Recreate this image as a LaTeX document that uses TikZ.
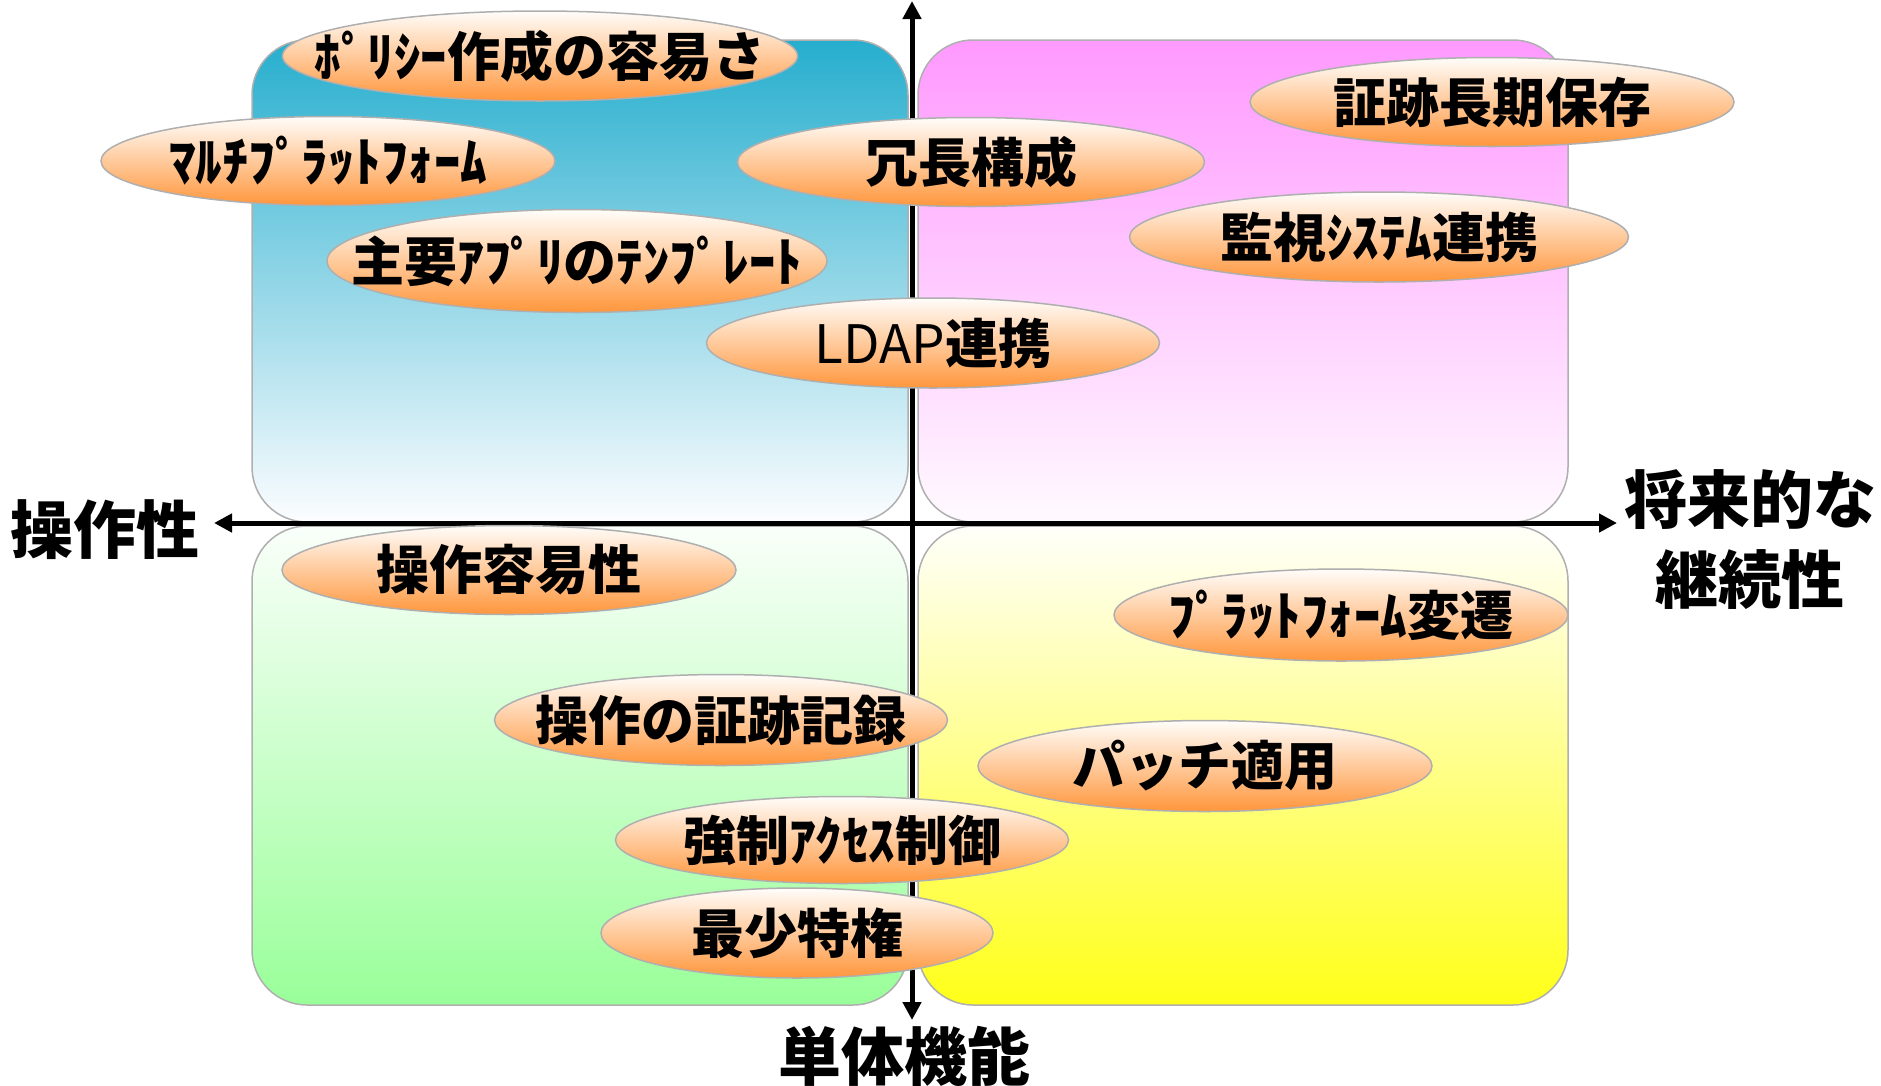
\documentclass[tikz,border=0pt]{standalone}
\usepackage{fontspec}
\newfontfamily\jp{Noto Sans CJK JP}
\usetikzlibrary{shapes.geometric,arrows.meta}
\definecolor{cyanT}{RGB}{38,174,206}
\definecolor{cyanB}{RGB}{252,253,255}
\definecolor{magT}{RGB}{255,153,255}
\definecolor{magB}{RGB}{255,250,255}
\definecolor{grnT}{RGB}{250,255,250}
\definecolor{grnB}{RGB}{153,255,153}
\definecolor{yelT}{RGB}{255,255,250}
\definecolor{yelB}{RGB}{255,255,25}
\definecolor{orT}{RGB}{255,253,250}
\definecolor{orM}{RGB}{252,205,170}
\definecolor{orB}{RGB}{255,150,60}
\definecolor{edge}{RGB}{175,175,175}
\begin{document}
\begin{tikzpicture}[x=1pt,y=-1pt,
  quad/.style={draw=edge,line width=1.5pt,rounded corners=55pt,inner sep=0pt},
  bub/.style={ellipse,draw=edge,line width=1.5pt,inner sep=0pt,
    top color=orT,middle color=orM,bottom color=orB},
  txt/.style={inner sep=0pt,font=\jp\bfseries\fontsize{53}{56}\selectfont},
  axlbl/.style={inner sep=0pt,font=\jp\bfseries\fontsize{63}{80}\selectfont,align=center},
  axis/.style={line width=5pt,{Triangle[length=18pt,width=18pt]}-{Triangle[length=18pt,width=18pt]}}]
\useasboundingbox (0,0) rectangle (1881,1085);
% quadrants
\node[quad,top color=cyanT,bottom color=cyanB,minimum width=656pt,minimum height=482pt] (q1) at (580,281) {};
\node[quad,top color=magT,bottom color=magB,minimum width=650pt,minimum height=482pt] (q2) at (1243,281) {};
\node[quad,top color=grnT,bottom color=grnB,minimum width=656pt,minimum height=479pt] (q3) at (580,765.5) {};
\node[quad,top color=yelT,bottom color=yelB,minimum width=650pt,minimum height=479pt] (q4) at (1243,765.5) {};
% axes
\coordinate (vt) at (912,1);
\coordinate (vb) at (912,1020);
\coordinate (hl) at (214,523);
\coordinate (hr) at (1617,523);
\draw[axis] (vb) -- (vt);
\draw[axis] (hl) -- (hr);
% axis labels
\node[axlbl] (lblL) at (105,530) {操作性};
\node[axlbl] (lblR) at (1750,540) {将来的な\\継続性};
\node[axlbl] (lblB) at (904,1056) {単体機能};
% bubbles
\node[bub,minimum width=515pt,minimum height=90pt] (e1) at (540,56) {};
\node[txt] (t1) at (e1) {ﾎﾟﾘｼｰ作成の容易さ};
\node[bub,minimum width=454pt,minimum height=89pt] (e2) at (328,161) {};
\node[txt] (t2) at (e2) {ﾏﾙﾁﾌﾟﾗｯﾄﾌｫｰﾑ};
\node[bub,minimum width=500pt,minimum height=103pt] (e3) at (577,261) {};
\node[txt] (t3) at (e3) {主要ｱﾌﾟﾘのﾃﾝﾌﾟﾚｰﾄ};
\node[bub,minimum width=467pt,minimum height=89pt] (e4) at (971,162) {};
\node[txt] (t4) at (e4) {冗長構成};
\node[bub,minimum width=453pt,minimum height=90pt] (e5) at (933,343) {};
\node[txt] (t5) at (e5) {{\mdseries LDAP}連携};
\node[bub,minimum width=484pt,minimum height=89pt] (e6) at (1492,102) {};
\node[txt] (t6) at (e6) {証跡長期保存};
\node[bub,minimum width=499pt,minimum height=90pt] (e7) at (1379,237) {};
\node[txt] (t7) at (e7) {監視ｼｽﾃﾑ連携};
\node[bub,minimum width=454pt,minimum height=89pt] (e8) at (509,570) {};
\node[txt] (t8) at (e8) {操作容易性};
\node[bub,minimum width=453pt,minimum height=91pt] (e9) at (721,720) {};
\node[txt] (t9) at (e9) {操作の証跡記録};
\node[bub,minimum width=453pt,minimum height=87pt] (e10) at (842,840) {};
\node[txt] (t10) at (e10) {強制ｱｸｾｽ制御};
\node[bub,minimum width=392pt,minimum height=90pt] (e11) at (797,933) {};
\node[txt] (t11) at (e11) {最少特権};
\node[bub,minimum width=454pt,minimum height=92pt] (e12) at (1341,615) {};
\node[txt] (t12) at (e12) {ﾌﾟﾗｯﾄﾌｫｰﾑ変遷};
\node[bub,minimum width=454pt,minimum height=91pt] (e13) at (1205,766) {};
\node[txt] (t13) at (e13) {パッチ適用};
\end{tikzpicture}
\end{document}
